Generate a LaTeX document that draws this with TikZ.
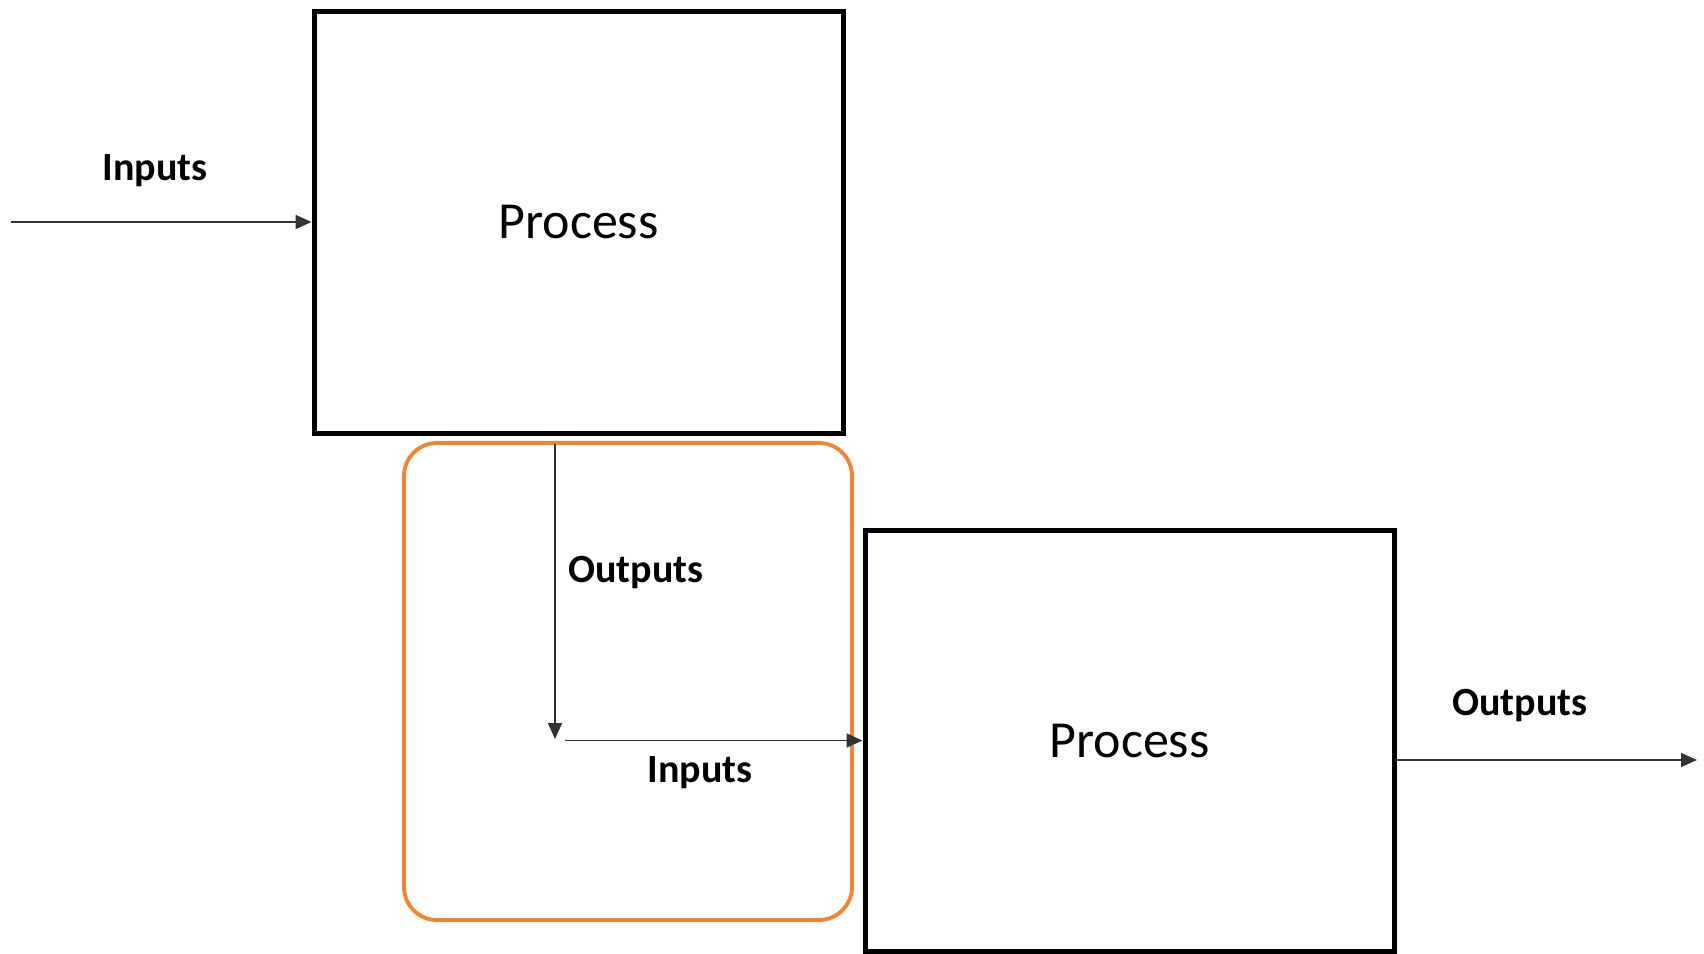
\documentclass[tikz,border=0pt]{standalone}
\usepackage{fontspec}
\setmainfont{Carlito}
\usetikzlibrary{arrows.meta}
\definecolor{frameorange}{RGB}{247,129,45}
\begin{document}
\begin{tikzpicture}[x=1pt,y=-1pt,
  procbox/.style={draw=black, line width=5pt, minimum width=529pt, minimum height=422pt, inner sep=0pt, font=\fontsize{52}{60}\selectfont},
  groupbox/.style={draw=frameorange, line width=3.8pt, rounded corners=33pt, minimum width=448pt, minimum height=477pt, inner sep=0pt},
  lbl/.style={font=\bfseries\fontsize{40}{48}\selectfont, inner sep=0pt},
  flow/.style={line width=1.8pt, draw=black!80, -{Triangle[length=16pt,width=14pt]}}]
\useasboundingbox (0,0) rectangle (1704,953);
% boxes
\node[procbox] (box1) at (578.5,222) {Process};
\node[groupbox] (grp) at (628,681.5) {};
\node[procbox, minimum height=421pt] (box2) at (1129.5,740.5) {Process};
% coordinates
\coordinate (inStart) at (11,222);
\coordinate (downStart) at (555,444);
\coordinate (downEnd) at (555,739);
\coordinate (rightStart) at (565,740.5);
\coordinate (outEnd) at (1697,760);
% connectors
\draw[flow] (inStart) -- (box1.west);
\draw[flow] (downStart) -- (downEnd);
\draw[flow] (rightStart) -- (box2.west);
\draw[flow] (box2.east |- outEnd) -- (outEnd);
% labels
\node[lbl] (lin1) at (155,171) {Inputs};
\node[lbl] (lout1) at (636,573) {Outputs};
\node[lbl] (lin2) at (700,773) {Inputs};
\node[lbl] (lout2) at (1520,706) {Outputs};
\end{tikzpicture}
\end{document}
